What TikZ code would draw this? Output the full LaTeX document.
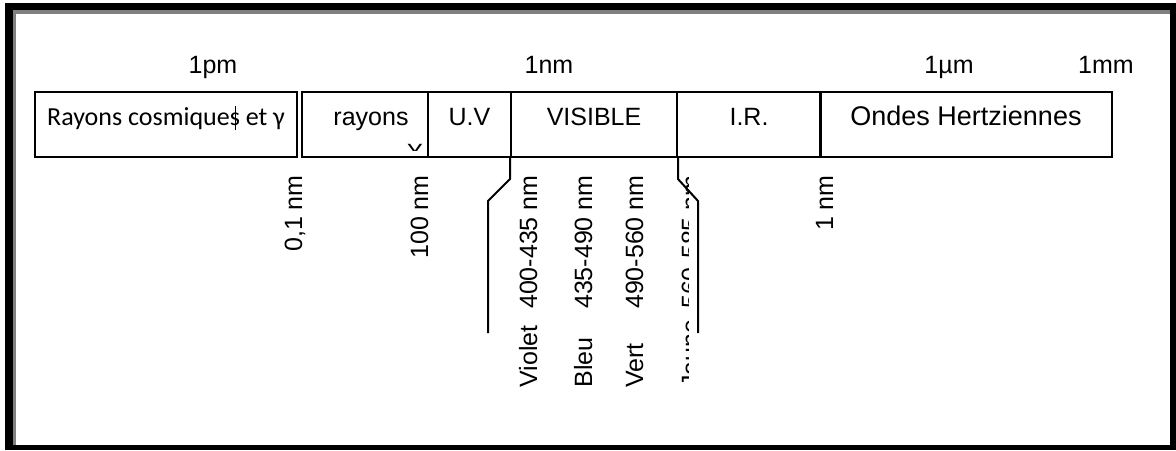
\documentclass[tikz,border=0pt]{standalone}
\usepackage{fontspec}
\setmainfont{Liberation Sans}
\newfontfamily\calib{Carlito}
\usetikzlibrary{positioning}

\newcommand\barS{\makebox[0pt][l]{\hspace{0.2em}\rule[-0.2em]{0.5pt}{0.95em}}s}

\tikzset{
  cell/.style={draw, line width=1pt, inner sep=0pt, minimum height=32.5pt,
    text height=8.5pt, text depth=8pt, font=\fontsize{12.5}{15}\selectfont},
  toplab/.style={anchor=base, font=\fontsize{12.5}{15}\selectfont},
  vlab/.style={rotate=90, inner sep=0pt, font=\fontsize{12.5}{15}\selectfont},
  bracket/.style={line width=1pt},
}

\begin{document}
\begin{tikzpicture}[x=0.5pt, y=-0.5pt]
\useasboundingbox (0,0) rectangle (1176,450);
%frame
\fill[black] (5,3) rectangle (1176,450);
\fill[gray] (13,10) rectangle (1170,445);
\fill[white] (16,14) rectangle (1170,445);

%scale
\node[toplab] (pm) at (213,73) {1pm};
\node[toplab] (nm) at (549,73) {1nm};
\node[toplab] (um) at (949,73) {1µm};
\node[toplab] (mm) at (1106,73) {1mm};

%bands
\node[cell, minimum width=131pt, font=\calib\fontsize{13}{15}\selectfont] (cosmic) at (166,124.5) {Rayons cosmique\barS{} et γ};
\node[cell, minimum width=63pt] (xray) at (365,124.5) {\hspace{6pt}rayons};
\node[cell, minimum width=41.5pt] (uv) at (469.5,124.5) {U.V};
\node[cell, minimum width=83pt] (visible) at (594,124.5) {VISIBLE};
\node[cell, minimum width=72pt] (ir) at (749,124.5) {I.R.};
\node[cell, minimum width=146pt, font=\fontsize{13.5}{16}\selectfont] (hertz) at (966,124.5) {Ondes Hertziennes};
\begin{scope}
\clip (395,140) rectangle (435,150.5);
\node[toplab] (xlet) at (415,161) {X};
\end{scope}

%limits
\node[vlab, anchor=base east] (l01) at (302,175) {0,1 nm};
\node[vlab, anchor=base east] (l100) at (428,175) {100 nm};
\node[vlab, anchor=base east] (l1nm) at (833,175) {1 nm};

%visible
\draw[bracket] (visible.south west) -- ++(0,21) -- ++(-22,22) -- ++(0,132);
\draw[bracket] (visible.south east) -- ++(0,21) -- ++(20,22) -- ++(0,132);
\node[vlab, anchor=base east] (wviolet) at (537,175) {400-435 nm};
\node[vlab, anchor=base east] (wbleu) at (592,175) {435-490 nm};
\node[vlab, anchor=base east] (wvert) at (643,175) {490-560 nm};
\node[vlab, anchor=base west] (violet) at (537,388) {Violet};
\node[vlab, anchor=base west] (bleu) at (592,388) {Bleu};
\node[vlab, anchor=base west] (vert) at (643,388) {Vert};
\begin{scope}
\clip (679,168) rectangle (688,395);
\node[vlab, anchor=base east] (wjaune) at (699,175) {560-585 nm};
\node[vlab, anchor=base west] (jaune) at (699,388) {Jaune};
\end{scope}

\end{tikzpicture}
\end{document}
